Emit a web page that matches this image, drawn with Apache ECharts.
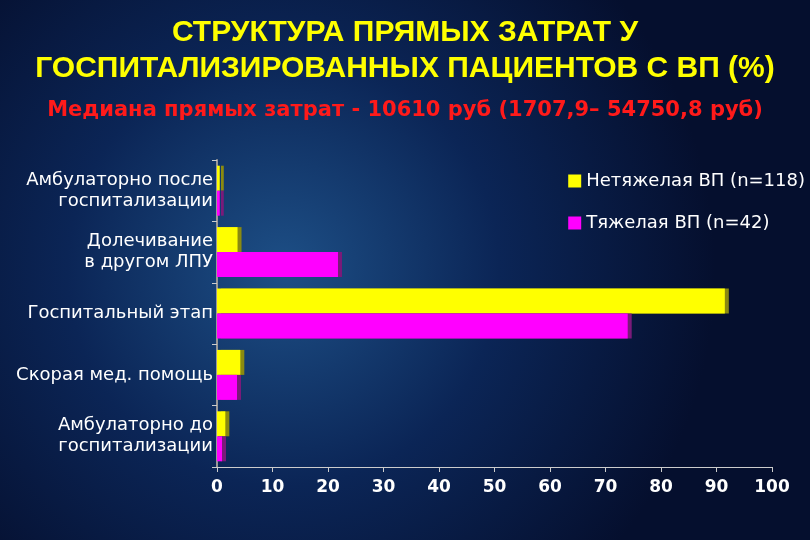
<!DOCTYPE html>
<html><head><meta charset="utf-8">
<script src="https://cdn.jsdelivr.net/npm/echarts@6/dist/echarts.min.js"></script>
<style>html,body{margin:0;padding:0;background:#07153a}#c{width:810px;height:540px}</style>
</head><body><div id="c"></div>
<script>
const categories = ['Амбулаторно после\nгоспитализации','Долечивание\nв другом ЛПУ','Госпитальный этап','Скорая мед. помощь','Амбулаторно до\nгоспитализации'];
const mild = [0.5, 3.7, 91.5, 4.2, 1.5];
const severe = [0.5, 21.8, 74, 3.6, 0.9];
const xTicks = [0,10,20,30,40,50,60,70,80,90,100];
const chart = echarts.init(document.getElementById('c'));
chart.setOption({
  backgroundColor: {type:'radial', x:0.35, y:0.5, r:0.8, colorStops:[{offset:0,color:'#1d4f86'},{offset:0.5,color:'#0b2556'},{offset:1,color:'#050f2e'}]},
  title: [
    {text:'СТРУКТУРА ПРЯМЫХ ЗАТРАТ У\nГОСПИТАЛИЗИРОВАННЫХ ПАЦИЕНТОВ С ВП (%)', left:'center', top:10,
     textStyle:{color:'#ffff00', fontFamily:'Liberation Sans', fontWeight:'bold', fontSize:30, lineHeight:36}},
    {text:'Медиана прямых затрат - 10610 руб (1707,9– 54750,8 руб)', left:'center', top:95,
     textStyle:{color:'#ff1a1a', fontFamily:'DejaVu Sans', fontWeight:'bold', fontSize:21}}
  ],
  legend: {orient:'vertical', right:0, top:167, itemGap:24, itemWidth:13, itemHeight:13, icon:'rect',
    textStyle:{color:'#ffffff', fontFamily:'DejaVu Sans', fontSize:18}},
  grid: {left:217, right:38, top:160, bottom:73},
  xAxis: {type:'value', min:0, max:100, interval:10,
    axisLine:{show:true, lineStyle:{color:'#cccccc'}}, axisTick:{show:true, lineStyle:{color:'#cccccc'}},
    splitLine:{show:false},
    axisLabel:{color:'#ffffff', fontFamily:'DejaVu Sans', fontWeight:'bold', fontSize:17, margin:12,
      formatter:v=>xTicks.includes(v)?String(v):''}},
  yAxis: {type:'category', data:categories, inverse:true,
    axisLine:{show:true, lineStyle:{color:'#999999', width:2}}, axisTick:{show:true, lineStyle:{color:'#cccccc'}},
    axisLabel:{color:'#ffffff', fontFamily:'DejaVu Sans', fontSize:18, lineHeight:21, margin:4, align:'right'}},
  series: [
    {name:'Нетяжелая ВП (n=118)', type:'bar', data:mild, barWidth:25, barGap:'0%', barCategoryGap:'20%',
     itemStyle:{color:'#ffff00', shadowColor:'#8a8a10', shadowOffsetX:4, shadowBlur:0}},
    {name:'Тяжелая ВП (n=42)', type:'bar', data:severe, barWidth:25,
     itemStyle:{color:'#ff00ff', shadowColor:'#7a1a7a', shadowOffsetX:4, shadowBlur:0}}
  ]
});
</script></body></html>
